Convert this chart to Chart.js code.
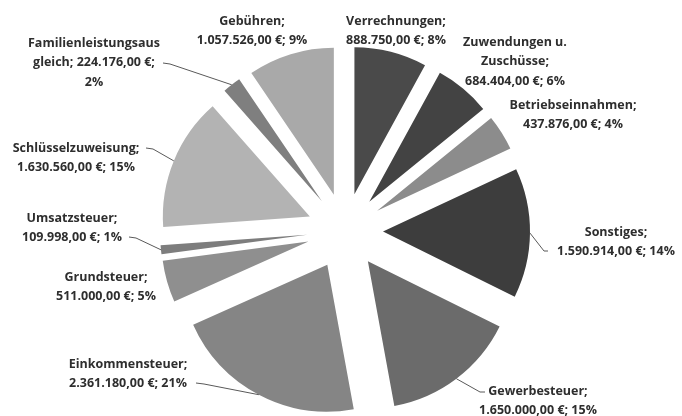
<!DOCTYPE html>
<html>
<head>
<meta charset="utf-8">
<script src="https://cdn.jsdelivr.net/npm/chart.js@4/dist/chart.umd.min.js"></script>
<style>
  html, body { margin: 0; padding: 0; background: #fff; }
  canvas { display: block; }
</style>
</head>
<body>
<canvas id="pieChart" width="682" height="416"></canvas>
<script>
// Einnahmen nach Kategorie (Uhrzeigersinn ab 12 Uhr)
const categories = [
  'Verrechnungen', 'Zuwendungen u. Zuschüsse', 'Betriebseinnahmen', 'Sonstiges',
  'Gewerbesteuer', 'Einkommensteuer', 'Grundsteuer', 'Umsatzsteuer',
  'Schlüsselzuweisung', 'Familienleistungsausgleich', 'Gebühren'
];
const amounts = [
  888750, 684404, 437876, 1590914,
  1650000, 2361180, 511000, 109998,
  1630560, 224176, 1057526
];
const sliceColors = [
  '#4a4a4a', '#434343', '#8c8c8c', '#3d3d3d',
  '#6b6b6b', '#858585', '#8f8f8f', '#7d7d7d',
  '#b3b3b3', '#7f7f7f', '#a9a9a9'
];

const EXPLODE = 38;
const total = amounts.reduce((a, b) => a + b, 0);

function euro(v) {
  return String(Math.round(v)).replace(/\B(?=(\d{3})+(?!\d))/g, '.') + ',00 €';
}
function pct(v) {
  return Math.round(v / total * 100) + '%';
}

// label lines (some wrap like the original)
function labelLines(i) {
  const name = categories[i], val = euro(amounts[i]) + '; ' + pct(amounts[i]);
  if (name === 'Zuwendungen u. Zuschüsse') return ['Zuwendungen u.', 'Zuschüsse;', val];
  if (name === 'Familienleistungsausgleich') {
    const full = name + '; ' + val;
    return [full.slice(0, 20), full.slice(20, full.lastIndexOf(' ')), full.slice(full.lastIndexOf(' ') + 1)];
  }
  return [name + ';', val];
}

// label placement: text centre x, first line y, optional leader points near the text
const labelLayout = [
  { x: 396, y: 21 },
  { x: 515, y: 42 },
  { x: 573, y: 105 },
  { x: 616, y: 232, leader: [[548, 251], [544, 251]] },
  { x: 538, y: 391, leader: [[485, 392], [480, 392]] },
  { x: 128, y: 364, leader: [[196, 383], [204, 384]] },
  { x: 106, y: 277 },
  { x: 72, y: 218, leader: [[129, 237], [136, 238]] },
  { x: 76, y: 148, leader: [[146, 148], [153, 149]] },
  { x: 94, y: 43, leader: [[163, 63], [170, 64]] },
  { x: 252, y: 21 }
];

const explodePlugin = {
  id: 'explode',
  afterDatasetUpdate(chart, args) {
    args.meta.data.forEach(arc => {
      const mid = (arc.startAngle + arc.endAngle) / 2;
      arc.x += Math.cos(mid) * EXPLODE;
      arc.y += Math.sin(mid) * EXPLODE;
    });
  }
};

const labelPlugin = {
  id: 'sliceLabels',
  afterDraw(chart) {
    const ctx = chart.ctx;
    const arcs = chart.getDatasetMeta(0).data;
    ctx.save();
    ctx.font = 'bold 12.5px "Open Sans", sans-serif';
    ctx.fillStyle = '#2e2e2e';
    ctx.textAlign = 'center';
    ctx.textBaseline = 'middle';
    labelLayout.forEach((lay, i) => {
      labelLines(i).forEach((line, k) => ctx.fillText(line, lay.x, lay.y + k * 19.5));
      if (lay.leader) {
        const arc = arcs[i];
        const mid = (arc.startAngle + arc.endAngle) / 2;
        const ax = arc.x + Math.cos(mid) * arc.outerRadius;
        const ay = arc.y + Math.sin(mid) * arc.outerRadius;
        ctx.beginPath();
        ctx.strokeStyle = '#595959';
        ctx.lineWidth = 1;
        ctx.moveTo(lay.leader[0][0], lay.leader[0][1]);
        ctx.lineTo(lay.leader[1][0], lay.leader[1][1]);
        ctx.lineTo(ax, ay);
        ctx.stroke();
      }
    });
    ctx.restore();
  }
};

const pieChart = new Chart(document.getElementById('pieChart').getContext('2d'), {
  type: 'pie',
  data: {
    labels: categories,
    datasets: [{
      data: amounts,
      backgroundColor: sliceColors,
      borderWidth: 0
    }]
  },
  options: {
    responsive: false,
    animation: false,
    radius: 147,
    layout: { padding: { left: 8, right: 0, top: 46, bottom: 0 } },
    plugins: {
      legend: { display: false },
      tooltip: { enabled: false }
    }
  },
  plugins: [explodePlugin, labelPlugin]
});
</script>
</body>
</html>
